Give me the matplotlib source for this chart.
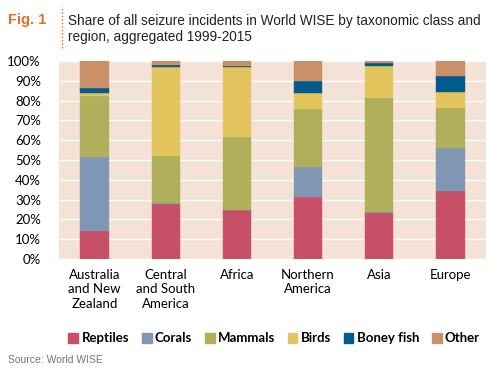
import numpy as np
import matplotlib.pyplot as plt
from matplotlib.lines import Line2D

regions = ['Australia\nand New\nZealand', 'Central\nand South\nAmerica', 'Africa',
           'Northern\nAmerica', 'Asia', 'Europe']
classes = ['Reptiles', 'Corals', 'Mammals', 'Birds', 'Boney fish', 'Other']

# shares in % per region
reptiles = [14.1, 27.9, 24.7, 31.5, 23.1, 34.5]
corals = [37.4, 0.2, 0.0, 15.1, 0.6, 21.4]
mammals = [31.0, 24.0, 37.1, 29.2, 57.6, 20.4]
birds = [1.2, 45.1, 35.3, 8.2, 16.2, 8.2]
boney_fish = [2.5, 0.6, 0.6, 5.7, 1.7, 7.9]
other = [13.8, 2.2, 2.3, 10.3, 0.8, 7.6]

colors = ['#c84f68', '#8096b4', '#b0b05c', '#e2c55c', '#005a8c', '#cc9068']

plt.rcParams['font.family'] = ['Lato', 'DejaVu Sans']
narrow = ['Liberation Sans', 'DejaVu Sans']

fig = plt.figure(figsize=(5.03, 3.71), dpi=100)
ax = fig.add_axes([0.1173, 0.3019, 0.8489, 0.5337])
ax.set_facecolor('#f5e2d6')

x = np.arange(len(regions))
bottom = np.zeros(len(regions))
series = [reptiles, corals, mammals, birds, boney_fish, other]
for vals, col, name in zip(series, colors, classes):
    vals = np.array(vals)
    ax.bar(x, vals, 0.4, bottom=bottom, color=col, label=name, zorder=3,
           edgecolor=col, linewidth=0.3)
    bottom += vals

ax.set_xlim(-0.5, 5.5)
ax.set_ylim(0, 100)
ax.set_yticks(np.arange(0, 101, 10))
ax.set_yticklabels([f'{v}%' for v in range(0, 101, 10)], fontsize=9.5)
ax.set_xticks(x)
ax.set_xticklabels(regions, fontsize=9.5, linespacing=1.25, va='top')
ax.tick_params(length=0, pad=7)
ax.tick_params(axis='y', pad=13)
ax.grid(axis='y', color='white', linewidth=1.0, zorder=1)
for s in ax.spines.values():
    s.set_visible(False)

handles = [plt.Rectangle((0, 0), 1, 1, color=c) for c in colors]
fig.legend(handles, classes, loc='center', bbox_to_anchor=(0.545, 0.088), ncol=6,
           frameon=False, handlelength=0.75, handleheight=0.75, handletextpad=0.25,
           columnspacing=0.95, prop={'weight': 'bold', 'size': 9.5})

fig.text(0.016, 0.945, 'Fig. 1', color='#e0702a', fontsize=10.5, fontweight='bold',
         va='center', family=narrow)
fig.add_artist(Line2D([0.123, 0.123], [0.87, 0.985], color='#e0702a',
                      linestyle=(0, (1, 1.5)), linewidth=1.0))
fig.text(0.135, 0.922, 'Share of all seizure incidents in World WISE by taxonomic class and\n'
         'region, aggregated 1999-2015', fontsize=9.8, va='center', linespacing=1.15,
         color='#222222', family=narrow)
fig.text(0.016, 0.03, 'Source: World WISE', color='#777777', fontsize=7.5, va='center',
         family=narrow)

fig.savefig('out.png', dpi=100)
